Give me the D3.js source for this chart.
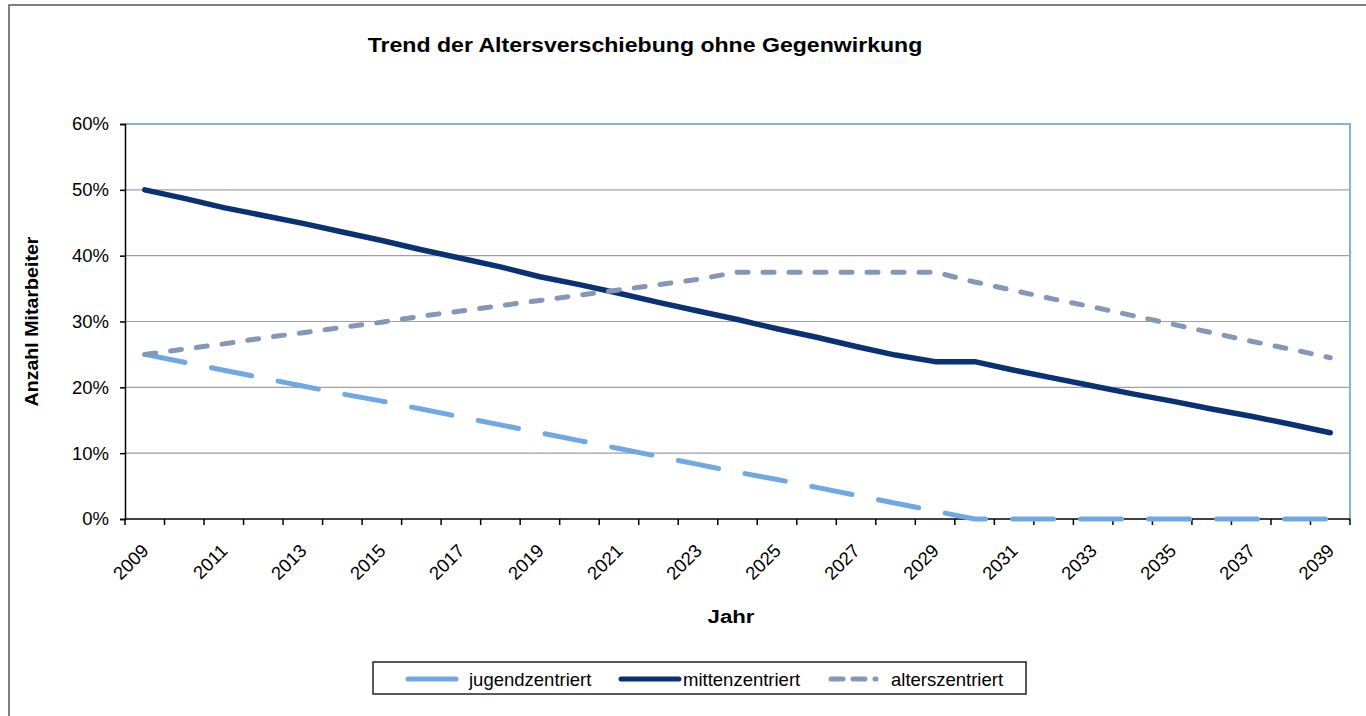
<!DOCTYPE html>
<html>
<head>
<meta charset="utf-8">
<script src="https://cdn.jsdelivr.net/npm/d3@7"></script>
<style>
  body { margin: 0; background: #fff; }
  svg { display: block; font-family: Arial, "Liberation Sans", sans-serif; }
  .tick-label { font-size: 18.5px; fill: #000; }
  .legend-text { font-size: 18.5px; fill: #000; }
</style>
</head>
<body>
<svg id="chart" width="1366" height="716"></svg>
<script>
var years = d3.range(2009, 2040);
var jugendzentriert = [25, 23.8, 22.6, 21.4, 20.2, 19.0, 17.9, 16.7, 15.5, 14.3, 13.1,
  11.9, 10.7, 9.5, 8.3, 7.1, 6.0, 4.8, 3.6, 2.4, 1.2, 0, 0, 0, 0, 0, 0, 0, 0, 0, 0];
var mittenzentriert = [50, 48.7, 47.3, 46.1, 44.9, 43.6, 42.3, 40.9, 39.6, 38.3, 36.8,
  35.6, 34.3, 32.9, 31.6, 30.3, 28.9, 27.6, 26.2, 24.9, 23.9, 23.9, 22.6, 21.4, 20.2,
  19.0, 17.9, 16.7, 15.6, 14.4, 13.1];
var alterszentriert = [25, 25.8, 26.6, 27.5, 28.3, 29.1, 29.9, 30.8, 31.6, 32.4, 33.2,
  34.0, 34.8, 35.6, 36.4, 37.5, 37.5, 37.5, 37.5, 37.5, 37.5, 36.0, 34.7, 33.4, 32.2,
  30.9, 29.6, 28.3, 27.0, 25.8, 24.5];
var yTicks = [0, 10, 20, 30, 40, 50, 60];

var series = [
  {name: "jugendzentriert", values: jugendzentriert, color: "#6fa8e2", dash: "41,27"},
  {name: "mittenzentriert", values: mittenzentriert, color: "#0b3175", dash: null},
  {name: "alterszentriert", values: alterszentriert, color: "#8497b9", dash: "11,15"}
];

var margin = {top: 124, right: 16, bottom: 197, left: 125};
var width = 1366 - margin.left - margin.right;
var height = 716 - margin.top - margin.bottom;

var svg = d3.select("#chart");

// outer chart frame
svg.append("rect")
  .attr("x", 9).attr("y", 5)
  .attr("width", 1400).attr("height", 800)
  .attr("fill", "none")
  .attr("stroke", "#555")
  .attr("stroke-width", 1.5);

var g = svg.append("g")
  .attr("transform", "translate(" + margin.left + "," + margin.top + ")");

var x = d3.scaleBand()
  .domain(years)
  .range([0, width]);
var y = d3.scaleLinear()
  .domain([0, 60])
  .range([height, 0]);

// gridlines
g.append("g")
  .selectAll("line")
  .data(yTicks.filter(function(d) { return d > 0 && d < 60; }))
  .enter().append("line")
    .attr("x1", 0).attr("x2", width)
    .attr("y1", function(d) { return y(d); })
    .attr("y2", function(d) { return y(d); })
    .attr("stroke", "#a0a0a0")
    .attr("stroke-width", 1.2);

// plot border top and right
g.append("path")
  .attr("d", "M0," + y(60) + "H" + width + "V" + height)
  .attr("fill", "none")
  .attr("stroke", "#7eb2e6")
  .attr("stroke-width", 2);

// y axis
var yAxis = g.append("g")
  .call(d3.axisLeft(y).tickValues(yTicks).tickSize(5).tickPadding(11)
    .tickFormat(function(d) { return d + "%"; }));
yAxis.select(".domain").attr("stroke", "#000").attr("stroke-width", 1.5);
yAxis.selectAll(".tick line").attr("stroke", "#000").attr("stroke-width", 1.5);
yAxis.selectAll("text")
  .attr("class", "tick-label")
  .attr("font-family", null).attr("font-size", null);

// x axis
var xAxisG = g.append("g").attr("transform", "translate(0," + height + ")");
xAxisG.append("line")
  .attr("x1", 0).attr("x2", width)
  .attr("stroke", "#000").attr("stroke-width", 1.5);
var boundaries = years.map(function(d) { return x(d); }).concat([width]);
xAxisG.selectAll("line.xt")
  .data(boundaries)
  .enter().append("line")
    .attr("class", "xt")
    .attr("x1", function(d) { return d; })
    .attr("x2", function(d) { return d; })
    .attr("y1", 0).attr("y2", 6)
    .attr("stroke", "#000").attr("stroke-width", 1.5);
xAxisG.selectAll("text")
  .data(years.filter(function(d, i) { return i % 2 === 0; }))
  .enter().append("text")
    .attr("class", "tick-label")
    .attr("text-anchor", "end")
    .attr("transform", function(d) {
      return "translate(" + (x(d) + x.bandwidth() / 2 + 5) + ",33) rotate(-45)";
    })
    .text(function(d) { return d; });

// lines
var line = d3.line()
  .x(function(d, i) { return x(years[i]) + x.bandwidth() / 2; })
  .y(function(d) { return y(d); });

g.append("g")
  .selectAll("path")
  .data(series)
  .enter().append("path")
    .attr("d", function(d) { return line(d.values); })
    .attr("fill", "none")
    .attr("stroke", function(d) { return d.color; })
    .attr("stroke-width", function(d) { return d.dash ? 5 : 5.5; })
    .attr("stroke-linecap", "round")
    .attr("stroke-linejoin", "round")
    .attr("stroke-dasharray", function(d) { return d.dash; });

// titles (the bold type in the original is a bit wider, hence the scaleX)
svg.append("text")
  .attr("transform", "translate(645,52) scale(1.155,1)")
  .attr("text-anchor", "middle")
  .attr("font-weight", "bold")
  .attr("font-size", 20)
  .text("Trend der Altersverschiebung ohne Gegenwirkung");

svg.append("text")
  .attr("transform", "translate(38," + (margin.top + height / 2) + ") rotate(-90) scale(1.09,1)")
  .attr("text-anchor", "middle")
  .attr("font-weight", "bold")
  .attr("font-size", 18)
  .text("Anzahl Mitarbeiter");

svg.append("text")
  .attr("transform", "translate(731,623) scale(1.17,1)")
  .attr("text-anchor", "middle")
  .attr("font-weight", "bold")
  .attr("font-size", 19)
  .text("Jahr");

// legend
var legend = svg.append("g");
legend.append("rect")
  .attr("x", 373).attr("y", 662)
  .attr("width", 653).attr("height", 32)
  .attr("fill", "#fff")
  .attr("stroke", "#222").attr("stroke-width", 1.5);
var legendPos = [{lx: 408, lw: 48, tx: 469}, {lx: 621, lw: 58, tx: 683}, {lx: 831, lw: 56, tx: 891}];
var legendDash = [null, null, "12,10,12,10,1,100"];
series.forEach(function(s, i) {
  var p = legendPos[i];
  legend.append("line")
    .attr("x1", p.lx).attr("x2", p.lx + p.lw)
    .attr("y1", 679).attr("y2", 679)
    .attr("stroke", s.color)
    .attr("stroke-width", 5)
    .attr("stroke-linecap", "round")
    .attr("stroke-dasharray", legendDash[i]);
  legend.append("text")
    .attr("class", "legend-text")
    .attr("x", p.tx).attr("y", 686)
    .text(s.name);
});
</script>
</body>
</html>
